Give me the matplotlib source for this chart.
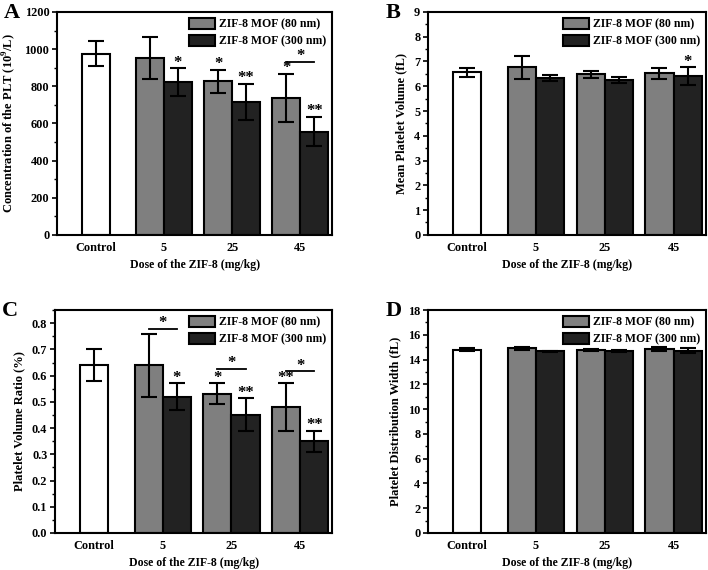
import matplotlib.pyplot as plt
import numpy as np
from matplotlib.ticker import MultipleLocator

plt.rcParams['font.family'] = ['Liberation Serif', 'DejaVu Serif']
plt.rcParams['font.weight'] = 'bold'
plt.rcParams['mathtext.fontset'] = 'custom'
plt.rcParams['mathtext.bf'] = 'Liberation Serif:bold'

groups = ['Control', '5', '25', '45']
series = ['ZIF-8 MOF (80 nm)', 'ZIF-8 MOF (300 nm)']

# panel A: platelet count
plt_ctrl = [975, 67]
plt_80 = [950, 826, 736]
plt_80_err = [113, 62, 130]
plt_300 = [822, 715, 555]
plt_300_err = [74, 95, 78]

# panel B: mean platelet volume
mpv_ctrl = [6.56, 0.19]
mpv_80 = [6.76, 6.48, 6.52]
mpv_80_err = [0.47, 0.13, 0.21]
mpv_300 = [6.34, 6.25, 6.41]
mpv_300_err = [0.12, 0.11, 0.35]

# panel C: platelet volume ratio
pct_ctrl = [0.64, 0.06]
pct_80 = [0.64, 0.53, 0.48]
pct_80_err = [0.12, 0.04, 0.09]
pct_300 = [0.52, 0.45, 0.35]
pct_300_err = [0.05, 0.063, 0.04]

# panel D: platelet distribution width
pdw_ctrl = [14.78, 0.12]
pdw_80 = [14.9, 14.78, 14.84]
pdw_80_err = [0.15, 0.08, 0.15]
pdw_300 = [14.68, 14.68, 14.73]
pdw_300_err = [0.05, 0.08, 0.2]

# significance marks: (series 0=80nm / 1=300nm, group 1..3, text)
stars_A = [(1, 1, '*'), (0, 2, '*'), (1, 2, '**'), (0, 3, '*'), (1, 3, '**')]
brackets_A = [(3, 932, '*')]
stars_B = [(1, 3, '*')]
brackets_B = []
stars_C = [(1, 1, '*'), (0, 2, '*'), (1, 2, '**'), (0, 3, '**'), (1, 3, '**')]
brackets_C = [(1, 0.777, '*'), (2, 0.626, '*'), (3, 0.616, '*')]
stars_D = []
brackets_D = []

GRAY = '#7f7f7f'
DARK = '#222222'
W = 0.41
FS = 8.5


def draw_panel(rect, letter, ctrl, v80, e80, v300, e300, ymax, major, minor,
               ylabel, stars, brackets):
    ax = fig.add_axes(rect)
    x = np.arange(1, 4)
    kw = dict(edgecolor='black', linewidth=1.5,
              error_kw=dict(elinewidth=1.5, capthick=1.5), capsize=5.5)
    ax.bar(0, ctrl[0], W, yerr=ctrl[1], color='white', **kw)
    b1 = ax.bar(x - W / 2, v80, W, yerr=e80, color=GRAY, label=series[0], **kw)
    b2 = ax.bar(x + W / 2, v300, W, yerr=e300, color=DARK, label=series[1], **kw)

    ax.set_xlim(-0.57, 3.47)
    ax.set_ylim(0, ymax)
    ax.set_xticks(range(4))
    ax.set_xticklabels(groups)
    ax.tick_params(axis='x', length=0, labelsize=FS + 0.3, pad=5)
    ax.yaxis.set_major_locator(MultipleLocator(major))
    ax.yaxis.set_minor_locator(MultipleLocator(minor))
    ax.tick_params(axis='y', which='major', length=3.5, width=1.2,
                   labelsize=FS + 0.3, direction='out', pad=2)
    ax.tick_params(axis='y', which='minor', length=2, width=1.0, direction='out')
    for s in ax.spines.values():
        s.set_linewidth(1.5)
    ax.set_xlabel('Dose of the ZIF-8 (mg/kg)', fontsize=FS, fontweight='bold',
                  labelpad=4)
    ax.set_ylabel(ylabel, fontsize=9, fontweight='bold', labelpad=5)

    vals = [v80, v300]
    errs = [e80, e300]
    for si, g, txt in stars:
        xc = g - W / 2 if si == 0 else g + W / 2
        y = vals[si][g - 1] + errs[si][g - 1]
        ax.annotate(txt, (xc, y), xytext=(0, -1.5), textcoords='offset points',
                    ha='center', va='bottom', fontsize=12)
    for g, y, txt in brackets:
        ax.plot([g - W / 2, g + W / 2], [y, y], color='black', lw=1.3)
        ax.annotate(txt, (g, y), xytext=(0, -1.5), textcoords='offset points',
                    ha='center', va='bottom', fontsize=12)

    ax.legend(handles=[b1, b2], loc='upper right', frameon=False, fontsize=FS,
              handlelength=2.2, handleheight=1.1, handletextpad=0.35,
              labelspacing=0.35, borderaxespad=0.1)
    lx = rect[0] - 0.075 if letter in 'AC' else rect[0] - 0.06
    fig.text(lx, rect[1] + rect[3] - 0.002, letter, fontsize=16,
             fontweight='bold', ha='left', va='center')
    return ax


fig = plt.figure(figsize=(7.08, 5.70), dpi=100)

draw_panel([0.0805, 0.588, 0.389, 0.391], 'A', plt_ctrl, plt_80, plt_80_err,
           plt_300, plt_300_err, 1200, 200, 100,
           'Concentration of the PLT (10$^{\\mathbf{9}}$/L)', stars_A, brackets_A)
draw_panel([0.6045, 0.588, 0.3925, 0.391], 'B', mpv_ctrl, mpv_80, mpv_80_err,
           mpv_300, mpv_300_err, 9, 1, 0.5,
           'Mean Platelet Volume (fL)', stars_B, brackets_B)
draw_panel([0.0777, 0.065, 0.3918, 0.391], 'C', pct_ctrl, pct_80, pct_80_err,
           pct_300, pct_300_err, 0.85, 0.1, 0.05,
           'Platelet Volume Ratio (%)', stars_C, brackets_C)
draw_panel([0.6045, 0.065, 0.3925, 0.391], 'D', pdw_ctrl, pdw_80, pdw_80_err,
           pdw_300, pdw_300_err, 18, 2, 1,
           'Platelet Distribution Width (fL)', stars_D, brackets_D)

fig.savefig('out.png', dpi=100)
